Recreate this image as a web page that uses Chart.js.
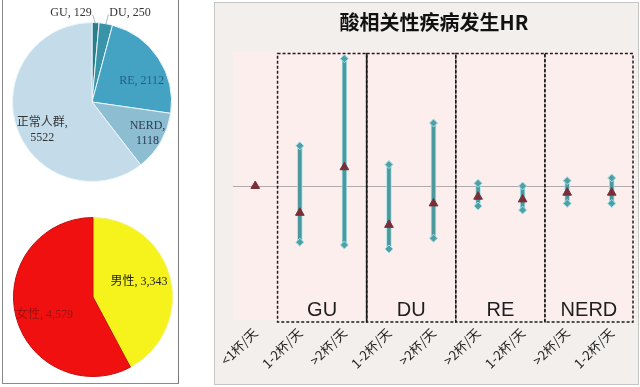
<!DOCTYPE html>
<html>
<head>
<meta charset="utf-8">
<script src="https://cdn.jsdelivr.net/npm/chart.js@4/dist/chart.umd.min.js"></script>
<style>
  html, body { margin: 0; padding: 0; background: #ffffff; width: 640px; height: 387px; overflow: hidden; }
  #leftPanel { position: absolute; left: 2px; top: -2px; width: 177px; height: 386px; box-sizing: border-box;
    border-left: 1.5px solid #8a8a8a; border-right: 1.5px solid #7a7a7a; border-bottom: 1.5px solid #8a8a8a; background: #ffffff; }
  #rightPanel { position: absolute; left: 214px; top: 2px; width: 425px; height: 383px; box-sizing: border-box;
    border: 1px solid #c4c4c4; background: #f2efed; }
  canvas { position: absolute; }
  #pie1 { left: 0px; top: 0px; }
  #pie2 { left: 0px; top: 200px; }
  #forest { left: 215px; top: 3px; }
</style>
</head>
<body>
<div id="leftPanel"></div>
<div id="rightPanel"></div>
<canvas id="pie1" width="184" height="200"></canvas>
<canvas id="pie2" width="184" height="187"></canvas>
<canvas id="forest" width="425" height="382"></canvas>
<script>
// ---------------- data ----------------
const diseaseNames = ['GU', 'DU', 'RE', 'NERD', '正常人群'];
const diseaseCounts = [129, 250, 2112, 1118, 5522];
const diseaseColors = ['#2b7d8c', '#3a94a9', '#44a2c3', '#8dbdd1', '#c4dcea'];

const genderNames = ['男性', '女性'];
const genderCounts = [3343, 4579];
const genderColors = ['#f6f31c', '#f01010'];

const categories = ['<1杯/天', '1-2杯/天', '>2杯/天', '1-2杯/天', '>2杯/天', '>2杯/天', '1-2杯/天', '>2杯/天', '1-2杯/天'];
const hrValues = [1.00, 0.80, 1.14, 0.71, 0.87, 0.92, 0.90, 0.95, 0.95];
const ciLower  = [null, 0.58, 0.56, 0.53, 0.61, 0.85, 0.82, 0.87, 0.87];
const ciUpper  = [null, 1.30, 1.95, 1.16, 1.47, 1.02, 1.00, 1.04, 1.06];
const groupNames = ['GU', 'DU', 'RE', 'NERD'];
const groupFirst = [1, 3, 5, 7];
const groupLast  = [2, 4, 6, 8];

// ---------------- pie label plugin ----------------
const LABEL_FONT = "12px 'Liberation Serif', 'Noto Sans CJK SC', serif";
const sliceLabels = {
  id: 'sliceLabels',
  afterDatasetsDraw(chart, args, opts) {
    const ctx = chart.ctx;
    const meta = chart.getDatasetMeta(0);
    ctx.save();
    ctx.font = LABEL_FONT;
    ctx.textBaseline = 'middle';
    (opts.items || []).forEach((it, i) => {
      if (!it) return;
      const arc = meta.data[i];
      const mid = (arc.startAngle + arc.endAngle) / 2;
      const r = arc.outerRadius;
      ctx.fillStyle = it.color;
      if (it.outside) {
        const ex = arc.x + Math.cos(mid) * r;
        const ey = arc.y + Math.sin(mid) * r;
        const tx = arc.x + it.dx;
        const ty = arc.y - r - 10;
        ctx.textAlign = 'center';
        ctx.fillText(it.lines[0], tx, ty);
        const w = ctx.measureText(it.lines[0]).width;
        const lx = it.dx < 0 ? tx + w / 2 + 1 : tx - w / 2 - 1;
        ctx.strokeStyle = '#9aa8ad';
        ctx.lineWidth = 0.8;
        ctx.beginPath();
        ctx.moveTo(lx, ty + 2);
        ctx.lineTo(ex, ey + 1);
        ctx.stroke();
      } else {
        const a = mid + it.dAng * Math.PI / 180;
        const cx = arc.x + Math.cos(a) * r * it.k;
        const cy = arc.y + Math.sin(a) * r * it.k;
        ctx.textAlign = 'center';
        const n = it.lines.length;
        it.lines.forEach((ln, j) => {
          ctx.fillText(ln, cx, cy + (j - (n - 1) / 2) * 15);
        });
      }
    });
    ctx.restore();
  }
};

function fmt(v) { return v.toLocaleString('en-US'); }

// ---------------- pie 1 ----------------
new Chart(document.getElementById('pie1'), {
  type: 'pie',
  data: {
    labels: diseaseNames,
    datasets: [{
      data: diseaseCounts,
      backgroundColor: diseaseColors,
      borderColor: '#eaf5f9',
      borderWidth: 1
    }]
  },
  options: {
    responsive: false, animation: false, devicePixelRatio: 1,
    layout: { padding: { left: 12, right: 12, top: 22, bottom: 18 } },
    plugins: {
      legend: { display: false }, tooltip: { enabled: false },
      sliceLabels: {
        items: [
          { outside: true, dx: -21, lines: [diseaseNames[0] + ', ' + diseaseCounts[0]], color: '#333333' },
          { outside: true, dx: 38, lines: [diseaseNames[1] + ', ' + diseaseCounts[1]], color: '#333333' },
          { k: 0.68, dAng: 10, lines: [diseaseNames[2] + ', ' + diseaseCounts[2]], color: '#1f5f86' },
          { k: 0.8, dAng: -1, lines: [diseaseNames[3] + ',', String(diseaseCounts[3])], color: '#2a3d55' },
          { k: 0.72, dAng: -11, lines: [diseaseNames[4] + ',', String(diseaseCounts[4])], color: '#333333' }
        ]
      }
    }
  },
  plugins: [sliceLabels]
});

// ---------------- pie 2 ----------------
new Chart(document.getElementById('pie2'), {
  type: 'pie',
  data: {
    labels: genderNames,
    datasets: [{
      data: genderCounts,
      backgroundColor: genderColors,
      borderColor: ['#f4f07a', '#c41010'],
      borderWidth: 1
    }]
  },
  options: {
    responsive: false, animation: false, devicePixelRatio: 1,
    layout: { padding: { left: 13, right: 11, top: 17, bottom: 10 } },
    plugins: {
      legend: { display: false }, tooltip: { enabled: false },
      sliceLabels: {
        items: [
          { k: 0.61, dAng: -4, lines: [genderNames[0] + ', ' + fmt(genderCounts[0])], color: '#222222' },
          { k: 0.65, dAng: -6, lines: [genderNames[1] + ', ' + fmt(genderCounts[1])], color: '#a01212' }
        ]
      }
    }
  },
  plugins: [sliceLabels]
});

// ---------------- forest plot ----------------
const forestDecor = {
  id: 'forestDecor',
  beforeDraw(chart) {
    const { ctx, chartArea: a } = chart;
    ctx.save();
    ctx.fillStyle = '#fdeeee';
    ctx.fillRect(a.left, a.top, a.right - a.left, a.bottom - a.top);
    ctx.restore();
  },
  beforeDatasetsDraw(chart) {
    const { ctx, chartArea: a, scales } = chart;
    const x = scales.x, y = scales.y;
    const w = x.getPixelForValue(1) - x.getPixelForValue(0);
    ctx.save();
    // reference line HR = 1
    const y1 = Math.round(y.getPixelForValue(1)) + 0.5;
    ctx.strokeStyle = '#b0aaaa';
    ctx.lineWidth = 1;
    ctx.beginPath();
    ctx.moveTo(a.left, y1);
    ctx.lineTo(a.right, y1);
    ctx.stroke();
    // group boxes
    const top = a.top + 1.5, bottom = a.bottom + 2;
    ctx.strokeStyle = '#1c1c1c';
    ctx.lineWidth = 1.5;
    ctx.setLineDash([3, 2]);
    const bounds = [];
    groupNames.forEach((g, i) => {
      const x1 = x.getPixelForValue(groupFirst[i]) - w / 2;
      const x2 = Math.min(x.getPixelForValue(groupLast[i]) + w / 2, a.right - 1);
      bounds.push([x1, x2]);
      ctx.strokeRect(x1, top, x2 - x1, bottom - top);
    });
    // solid divider between GU and DU
    ctx.setLineDash([]);
    ctx.beginPath();
    ctx.moveTo(bounds[1][0], top);
    ctx.lineTo(bounds[1][0], bottom);
    ctx.stroke();
    // group labels
    ctx.fillStyle = '#1e1e1e';
    ctx.font = "20px 'Liberation Sans', 'Open Sans', sans-serif";
    ctx.textAlign = 'center';
    ctx.textBaseline = 'alphabetic';
    groupNames.forEach((g, i) => {
      ctx.fillText(g, (bounds[i][0] + bounds[i][1]) / 2, a.bottom - 4);
    });
    ctx.restore();
  }
};

new Chart(document.getElementById('forest'), {
  type: 'bar',
  data: {
    labels: categories,
    datasets: [
      {
        type: 'bar',
        data: ciLower.map((l, i) => (l == null ? null : [l, ciUpper[i]])),
        backgroundColor: '#4b989d',
        borderColor: 'rgba(160,228,234,0.9)',
        borderWidth: 1,
        borderSkipped: false,
        barThickness: 5,
        order: 3
      },
      {
        type: 'line',
        data: ciUpper,
        showLine: false,
        pointStyle: 'rectRot',
        pointRadius: 4,
        backgroundColor: '#4f9fa4',
        borderColor: '#a4e0e6',
        borderWidth: 1,
        order: 2
      },
      {
        type: 'line',
        data: ciLower,
        showLine: false,
        pointStyle: 'rectRot',
        pointRadius: 4,
        backgroundColor: '#4f9fa4',
        borderColor: '#a4e0e6',
        borderWidth: 1,
        order: 2
      },
      {
        type: 'line',
        data: hrValues,
        showLine: false,
        pointStyle: 'triangle',
        pointRadius: 5,
        backgroundColor: '#7a2e38',
        borderColor: '#7a2e38',
        borderWidth: 1,
        order: 1
      }
    ]
  },
  options: {
    responsive: false, animation: false, devicePixelRatio: 1,
    layout: { padding: { left: 18, right: 5, top: 0, bottom: 0 } },
    scales: {
      x: {
        grid: { display: false, drawTicks: false },
        border: { display: false },
        ticks: {
          maxRotation: 45, minRotation: 45, padding: 5, color: '#222222',
          font: { family: "'Noto Sans CJK SC', sans-serif", size: 13 }
        },
        afterFit(scale) { scale.height = 65; }
      },
      y: { display: false, min: 0, max: 2 }
    },
    plugins: {
      legend: { display: false },
      tooltip: { enabled: false },
      title: {
        display: true,
        text: '酸相关性疾病发生HR',
        color: '#111111',
        font: { family: "'Noto Sans CJK SC', sans-serif", size: 20, weight: 'bold' },
        padding: { top: 7, bottom: 18 }
      }
    }
  },
  plugins: [forestDecor]
});
</script>
</body>
</html>
